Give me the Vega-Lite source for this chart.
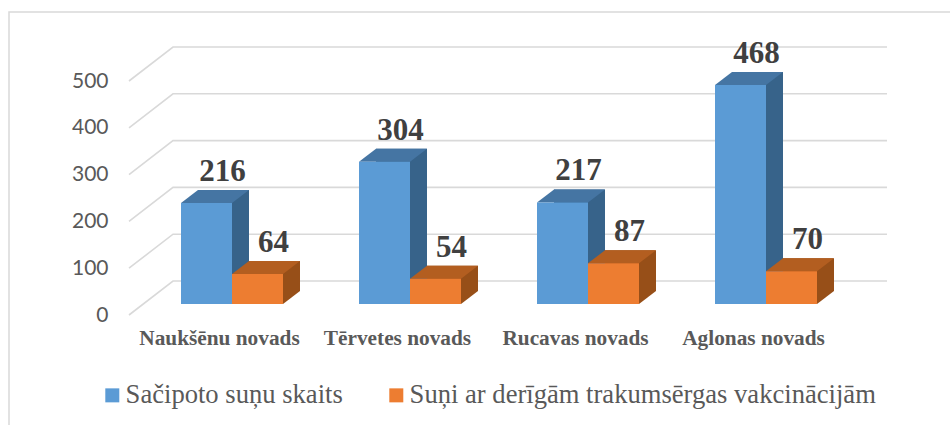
{
"$schema":"https://vega.github.io/schema/vega-lite/v6.json",
"width":712,"height":234,
"autosize":{"type":"none"},
"padding":{"left":129,"top":81,"right":109,"bottom":110},
"background":"white",
"config":{"view":{"stroke":null}},
"resolve":{"scale":{"x":"independent"},"axis":{"x":"independent"}},
"data":{"values":[
{"novads":"Naukšēnu novads","series":"Sačipoto suņu skaits","value":216},
{"novads":"Naukšēnu novads","series":"Suņi ar derīgām trakumsērgas vakcinācijām","value":64},
{"novads":"Tērvetes novads","series":"Sačipoto suņu skaits","value":304},
{"novads":"Tērvetes novads","series":"Suņi ar derīgām trakumsērgas vakcinācijām","value":54},
{"novads":"Rucavas novads","series":"Sačipoto suņu skaits","value":217},
{"novads":"Rucavas novads","series":"Suņi ar derīgām trakumsērgas vakcinācijām","value":87},
{"novads":"Aglonas novads","series":"Sačipoto suņu skaits","value":468},
{"novads":"Aglonas novads","series":"Suņi ar derīgām trakumsērgas vakcinācijām","value":70}
]},
"encoding":{
"x":{"field":"novads","type":"nominal","title":null,"axis":null,
"scale":{"type":"band","domain":["Naukšēnu novads","Tērvetes novads","Rucavas novads","Aglonas novads"],"paddingInner":0.427,"paddingOuter":0.2135}},
"y":{"field":"value","type":"quantitative","title":null,
"scale":{"domain":[0,500],"nice":false},
"axis":{"values":[0,100,200,300,400,500],"grid":false,"domain":false,"ticks":false,"labelFont":"Lato","labelFontSize":21,"labelColor":"#595959","labelPadding":21}},
"xOffset":{"field":"series","type":"nominal","scale":{"domain":["Sačipoto suņu skaits","Suņi ar derīgām trakumsērgas vakcinācijām"],"range":[0,102]}}
},
"layer":[
{"data":{"values":[{"frame":500}]},
 "mark":{"type":"point","filled":false,"stroke":"#d9d9d9","strokeWidth":1.5,"opacity":1,"size":4,"shape":"M-209,344 L-209,-69 L732,-69"},
 "encoding":{"x":{"datum":"Naukšēnu novads","axis":null,"scale":{"type":"band","domain":["Naukšēnu novads","Tērvetes novads","Rucavas novads","Aglonas novads"],"paddingInner":0.427,"paddingOuter":0.2135}},"y":{"field":"frame","type":"quantitative"},"xOffset":null}},
{"data":{"values":[{"tick":0},{"tick":100},{"tick":200},{"tick":300},{"tick":400},{"tick":500}]},
 "mark":{"type":"point","filled":false,"stroke":"#d9d9d9","strokeWidth":1.6,"opacity":1,"size":4,"shape":"M-89,0 L-45,-34 L669,-34"},
 "encoding":{"x":{"datum":"Naukšēnu novads","axis":null,"scale":{"type":"band","domain":["Naukšēnu novads","Tērvetes novads","Rucavas novads","Aglonas novads"],"paddingInner":0.427,"paddingOuter":0.2135}},"y":{"field":"tick","type":"quantitative"},"xOffset":null}},
{"mark":{"type":"bar","yOffset":-24,"y2Offset":-24},
 "encoding":{
  "x":{"field":"novads","type":"nominal","title":null,"axis":null,"scale":{"type":"band","range":[31,743],"domain":["Naukšēnu novads","Tērvetes novads","Rucavas novads","Aglonas novads"],"paddingInner":0.427,"paddingOuter":0.2135}},
  "y2":{"datum":0},"color":{"condition":{"test":"datum.series==='Sačipoto suņu skaits'","value":"#37638a"},"value":"#974f18"}}},
{"mark":{"type":"point","filled":true,"opacity":1,"strokeWidth":0,"size":4,"shape":"M39.5,-11 L56.5,-24 L39.5,-24 Z"},
 "encoding":{"y":{"datum":0},"color":{"condition":{"test":"datum.series==='Sačipoto suņu skaits'","value":"#37638a"},"value":"#974f18"}}},
{"mark":{"type":"point","filled":true,"opacity":1,"strokeWidth":0,"size":4,"shape":"M-11.5,-11 L39.5,-11 L56.5,-24 L5.5,-24 Z"},
 "encoding":{"color":{"condition":{"test":"datum.series==='Sačipoto suņu skaits'","value":"#4575a3"},"value":"#b35e20"}}},
{"mark":{"type":"bar","yOffset":-11,"y2Offset":-11},
 "encoding":{
  "x":{"field":"novads","type":"nominal","title":null,"axis":null,"scale":{"type":"band","range":[14,726],"domain":["Naukšēnu novads","Tērvetes novads","Rucavas novads","Aglonas novads"],"paddingInner":0.427,"paddingOuter":0.2135}},
  "y2":{"datum":0},"color":{"field":"series","type":"nominal",
  "scale":{"domain":["Sačipoto suņu skaits","Suņi ar derīgām trakumsērgas vakcinācijām"],"range":["#5b9bd5","#ed7d31"]},
  "legend":{"title":null,"orient":"none","legendX":-30,"legendY":301,"direction":"horizontal","symbolType":"square","symbolSize":196,"symbolStrokeWidth":0,"labelFont":"Liberation Serif","labelFontSize":26.6,"labelColor":"#595959","labelOffset":0,"columnPadding":40,"labelLimit":600}}}},
{"mark":{"type":"text","font":"Liberation Serif","fontWeight":"bold","fontSize":31,"color":"#404040","dx":30,"dy":-33,"baseline":"alphabetic","align":"center"},
 "encoding":{
  "x":{"field":"novads","type":"nominal","title":null,"scale":{"type":"band","domain":["Naukšēnu novads","Tērvetes novads","Rucavas novads","Aglonas novads"],"paddingInner":0.427,"paddingOuter":0.2135},
  "axis":{"labelAngle":0,"domain":false,"ticks":false,"grid":false,"labelFont":"Liberation Serif","labelFontWeight":"bold","labelFontSize":21.3,"labelColor":"#595959","labelPadding":29,"labelOffset":1.5,"labelBaseline":"alphabetic","labelLimit":300}},
  "text":{"field":"value","type":"quantitative"}}}
]
}
